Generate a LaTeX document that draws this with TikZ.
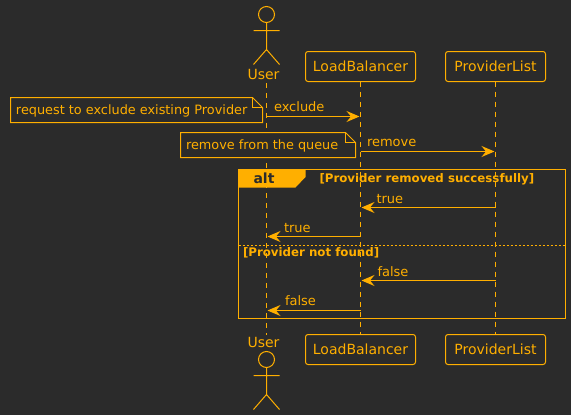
\documentclass[tikz,border=0pt]{standalone}
\usepackage{fontspec}
\setmainfont{DejaVu Sans}
\usetikzlibrary{arrows.meta,calc}
\definecolor{bgc}{HTML}{2B2B2B}
\definecolor{org}{HTML}{FFAF00}
\tikzset{
 every node/.style={inner sep=0pt,outer sep=0pt,text=org},
 ln/.style={draw=org,line width=1pt},
 participantbox/.style={ln,rounded corners=2.5pt,minimum height=30pt,font=\fontsize{14}{16}\selectfont,anchor=center},
 lifeline/.style={ln,dash pattern=on 5pt off 5pt},
 msg/.style={ln,-{Stealth[length=13pt,width=11pt,inset=4.5pt,fill=org]},shorten >=1pt},
 msgtxt/.style={font=\fontsize{13}{15}\selectfont,anchor=base west},
 notetxt/.style={font=\fontsize{12.85}{15}\selectfont,anchor=base west},
 guard/.style={font=\fontsize{11.8}{13}\selectfont\bfseries,anchor=base west,text=org},
 actorname/.style={font=\fontsize{14}{16}\selectfont,anchor=base},
}
\begin{document}
\begin{tikzpicture}[x=1pt,y=-1pt]
\path[fill=bgc,use as bounding box] (0,0) rectangle (571,415);

% participants
\node[participantbox,minimum width=110pt] (lbT) at (360.5,66.5) {LoadBalancer};
\node[participantbox,minimum width=100pt] (plT) at (495.5,66.5) {ProviderList};
\node[participantbox,minimum width=110pt] (lbB) at (360.5,349.5) {LoadBalancer};
\node[participantbox,minimum width=100pt] (plB) at (495.5,349.5) {ProviderList};
\node[actorname] (userT) at (263.5,79) {User};
\node[actorname] (userB) at (263.5,347) {User};
\coordinate (uT) at (266.5,83);
\coordinate (uB) at (266.5,335);

% lifelines
\draw[lifeline] (uT) -- (uB);
\draw[lifeline] (lbT.south) -- (lbB.north);
\draw[lifeline] (plT.south) -- (plB.north);

% actors
\draw[ln] (266.5,14.5) circle (8);
\draw[ln] (266.5,22.5) -- (266.5,49.5) (253.5,30.5) -- (279.5,30.5)
  (253.5,64.5) -- (266.5,49.5) -- (279.5,64.5);
\draw[ln] (266.5,359.5) circle (8);
\draw[ln] (266.5,367.5) -- (266.5,394.5) (253.5,375.5) -- (279.5,375.5)
  (253.5,409.5) -- (266.5,394.5) -- (279.5,409.5);

% notes
\draw[ln,fill=bgc] (10.5,97.5) -- (252.5,97.5) -- (262.5,107.5) -- (262.5,122.5) -- (10.5,122.5) -- cycle;
\draw[ln] (252.5,97.5) -- (252.5,107.5) -- (262.5,107.5);
\node[notetxt] (n1) at (16,114) {request to exclude existing Provider};
\draw[ln,fill=bgc] (180.5,132.5) -- (345.5,132.5) -- (355.5,142.5) -- (355.5,157.5) -- (180.5,157.5) -- cycle;
\draw[ln] (345.5,132.5) -- (345.5,142.5) -- (355.5,142.5);
\node[notetxt] (n2) at (186,149) {remove from the queue};

% messages
\coordinate (u1) at (266.5,116.5); \coordinate (l1) at (360.5,116.5);
\coordinate (l2) at (360.5,151.5); \coordinate (p2) at (495.5,151.5);
\coordinate (p3) at (495.5,207.5); \coordinate (l3) at (360.5,207.5);
\coordinate (l4) at (360.5,236.5); \coordinate (u4) at (266.5,236.5);
\coordinate (p5) at (495.5,280.5); \coordinate (l5) at (360.5,280.5);
\coordinate (l6) at (360.5,310.5); \coordinate (u6) at (266.5,310.5);
\draw[msg] (u1) -- (l1);
\draw[msg] (l2) -- (p2);
\draw[msg] (p3) -- (l3);
\draw[msg] (l4) -- (u4);
\draw[msg] (p5) -- (l5);
\draw[msg] (l6) -- (u6);
\node[msgtxt] (m1) at (274,111) {exclude};
\node[msgtxt] (m2) at (367,146) {remove};
\node[msgtxt] (m3) at (376.5,203) {true};
\node[msgtxt] (m4) at (284,232) {true};
\node[msgtxt] (m5) at (377.5,276) {false};
\node[msgtxt] (m6) at (285,305) {false};

% alt frame
\draw[ln] (238.5,169.5) rectangle (565.5,318.5);
\fill[org] (238,169) -- (305.5,169) -- (305.5,177) -- (295.5,187.5) -- (238,187.5) -- cycle;
\node[font=\fontsize{14}{16}\selectfont\bfseries,anchor=base west,text=bgc] (alt) at (253.5,183) {alt};
\node[guard] (g1) at (319.5,182) {[Provider removed successfully]};
\draw[draw=org,line width=1pt,dash pattern=on 2pt off 2pt] (238.5,245.5) -- (565.5,245.5);
\node[guard] (g2) at (243,256) {[Provider not found]};
\end{tikzpicture}
\end{document}
